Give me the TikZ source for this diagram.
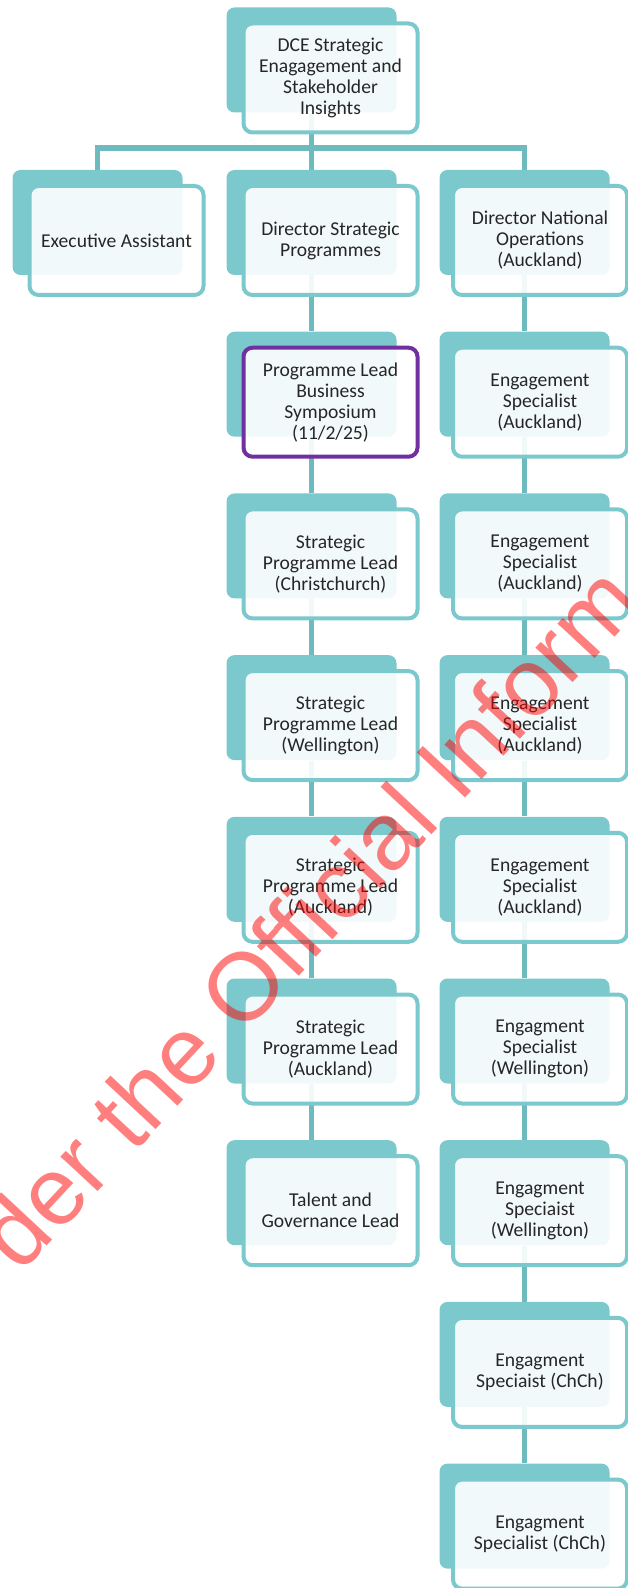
\documentclass[tikz,border=0pt]{standalone}
\usepackage{fontspec}
\setmainfont{Carlito}
\newfontfamily\markfont{Liberation Sans}
\usetikzlibrary{backgrounds}
\definecolor{cardteal}{HTML}{7BC8CD}
\definecolor{linkteal}{HTML}{6DBABF}
\definecolor{leadpurple}{HTML}{7030A0}
\tikzset{
    backcard/.style={rectangle, rounded corners=4pt, fill=cardteal, minimum width=85pt, minimum height=52.5pt, inner sep=0pt},
    card/.style={rectangle, rounded corners=4.5pt, draw=cardteal, line width=2pt, fill=white, fill opacity=0.9, text opacity=1, minimum width=87pt, minimum height=54.5pt, inner sep=1pt, align=center, text=black!85, font=\fontsize{9.8}{10.5}\selectfont},
    link/.style={draw=linkteal, line width=2.8pt},
}

\begin{document}
\begin{tikzpicture}[x=0.5pt, y=-0.5pt]
    \useasboundingbox (0, 0) rectangle (627, 1588);
    % head of the unit
    \node [backcard] (top-b) at (311.5, 60) {};
    \node [card] (top) at (330.5, 78) {DCE Strategic\\Enagagement and\\Stakeholder\\Insights};
    \coordinate (bus) at (311.5, 148);
    % first row
    \node [backcard] (ea-b) at (97.5, 222.5) {};
    \node [card] (ea) at (116.5, 240.5) {Executive Assistant};
    \node [backcard] (sp1-b) at (311.5, 222.5) {};
    \node [card] (sp1) at (330.5, 240.5) {Director Strategic\\Programmes};
    % strategic programmes column
    \node [backcard] (sp2-b) at (311.5, 384.2) {};
    \node [card, draw=leadpurple] (sp2) at (330.5, 402.2) {Programme Lead\\Business\\Symposium\\(11/2/25)};
    \foreach \t [count=\i from 3] in {{Strategic\\Programme Lead\\(Christchurch)}, {Strategic\\Programme Lead\\(Wellington)}, {Strategic\\Programme Lead\\(Auckland)}, {Strategic\\Programme Lead\\(Auckland)}, {Talent and\\Governance Lead}}{
        \node [backcard] (sp\i-b) at (311.5, {60.8 + 161.7*\i}) {};
        \node [card] (sp\i) at (330.5, {78.8 + 161.7*\i}) {\t};
    }
    % national operations column
    \foreach \t [count=\i from 1] in {{Director National\\Operations\\(Auckland)}, {Engagement\\Specialist\\(Auckland)}, {Engagement\\Specialist\\(Auckland)}, {Engagement\\Specialist\\(Auckland)}, {Engagement\\Specialist\\(Auckland)}, {Engagment\\Specialist\\(Wellington)}, {Engagment\\Speciaist\\(Wellington)}, {Engagment\\Speciaist (ChCh)}, {Engagment\\Specialist (ChCh)}}{
        \node [backcard] (no\i-b) at (524.5, {60.8 + 161.7*\i}) {};
        \node [card] (no\i) at (540, {78.8 + 161.7*\i}) {\t};
    }
    % connectors
    \begin{scope}[on background layer]
        \draw [link] (top-b.south) -- (bus);
        \draw [link] (ea-b.north) |- (bus) -| (no1-b.north);
        \draw [link] (bus) -- (sp1-b.north);
        \foreach \i [count=\j from 2] in {1, ..., 6}{
            \draw [link] (sp\i-b.south) -- (sp\j-b.north);
        }
        \foreach \i [count=\j from 2] in {1, ..., 8}{
            \draw [link] (no\i-b.south) -- (no\j-b.north);
        }
    \end{scope}
    % watermark
    \node [rotate=47, anchor=base, text=red, text opacity=0.5, font=\markfont\fontsize{48}{48}\selectfont] (mark) at (333, 940) {der the Official Inform};
\end{tikzpicture}
\end{document}
